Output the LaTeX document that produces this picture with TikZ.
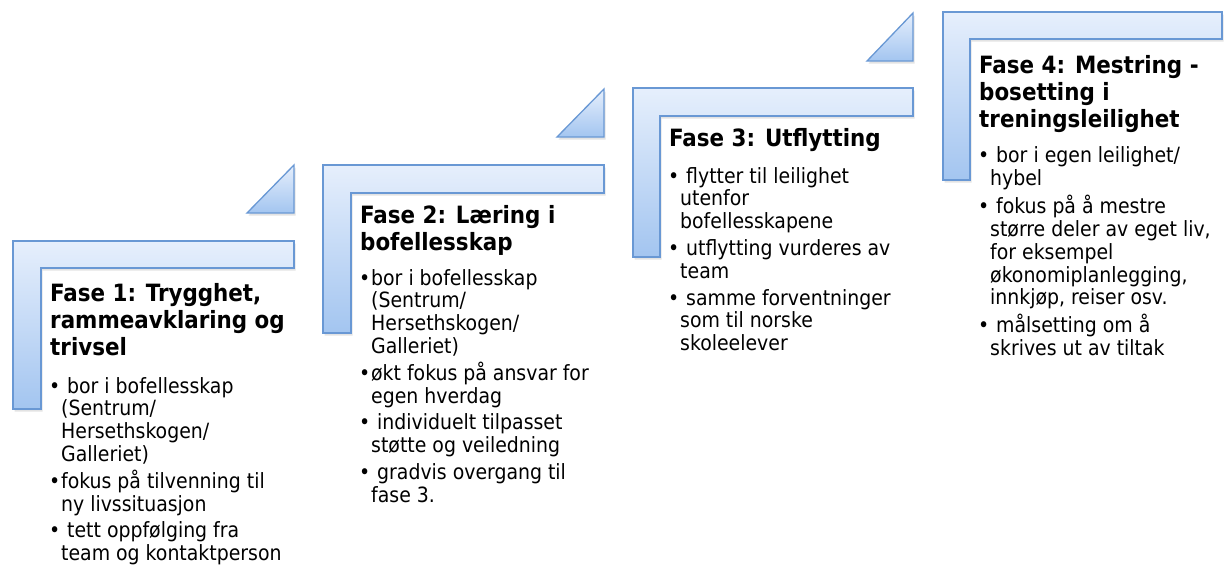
\documentclass[tikz,border=0pt]{standalone}
\usepackage{fontspec}
\setmainfont{DejaVu Sans Condensed}
\usepackage{tikz}
\usetikzlibrary{shadows}

\definecolor{stepline}{RGB}{105,152,212}
\definecolor{steptop}{RGB}{230,239,252}
\definecolor{stepbottom}{RGB}{163,197,240}

\newcommand{\bitem}[1]{\makebox[12pt][l]{•}#1}
\newcommand{\bhang}[1]{\hspace*{12pt}#1}

\tikzset{
  stepshape/.style={draw=stepline, line width=1.3pt, line join=miter,
    top color=steptop, bottom color=stepbottom,
    drop shadow={shadow xshift=1.5pt, shadow yshift=-2.5pt, opacity=0.22}},
  phasehead/.style={anchor=base west, inner sep=0pt, align=left,
    font=\fontsize{23.8}{27}\selectfont\bfseries},
  phasebody/.style={anchor=base west, inner sep=0pt, align=left,
    font=\fontsize{21}{22.8}\selectfont},
}

\begin{document}
\begin{tikzpicture}[x=1pt,y=-1pt]
\useasboundingbox (0,0) rectangle (1224,565);
% steps
\draw[stepshape] (13,241) -- (294,241) -- (294,268) -- (41,268) -- (41,409) -- (13,409) -- cycle;
\draw[stepshape] (323,165) -- (604,165) -- (604,193) -- (351,193) -- (351,333) -- (323,333) -- cycle;
\draw[stepshape] (633,88) -- (913,88) -- (913,116) -- (660,116) -- (660,257) -- (633,257) -- cycle;
\draw[stepshape] (943,12) -- (1222,12) -- (1222,39) -- (970,39) -- (970,180) -- (943,180) -- cycle;
% arrows between steps
\draw[stepshape] (247,213) -- (294,213) -- (294,165) -- cycle;
\draw[stepshape] (557,137) -- (604,137) -- (604,89) -- cycle;
\draw[stepshape] (867,61) -- (913,61) -- (913,13) -- cycle;
% fase 1 (base = last line)
\node[phasehead] (h1) at (50,355) {Fase 1: Trygghet,\\rammeavklaring og\\trivsel};
\node[phasebody] (b1) at (49,560.6) {\bitem{\ bor i bofellesskap}\\\bhang{(Sentrum/}\\\bhang{Hersethskogen/}\\\bhang{Galleriet)}\\[4pt]
  \bitem{fokus på tilvenning til}\\\bhang{ny livssituasjon}\\[4pt]
  \bitem{\ tett oppfølging fra}\\\bhang{team og kontaktperson}};
% fase 2
\node[phasehead] (h2) at (360,250) {Fase 2: Læring i\\bofellesskap};
\node[phasebody] (b2) at (359,502.2) {\bitem{bor i bofellesskap}\\\bhang{(Sentrum/}\\\bhang{Hersethskogen/}\\\bhang{Galleriet)}\\[4pt]
  \bitem{økt fokus på ansvar for}\\\bhang{egen hverdag}\\[4pt]
  \bitem{\ individuelt tilpasset}\\\bhang{støtte og veiledning}\\[4pt]
  \bitem{\ gradvis overgang til}\\\bhang{fase 3.}};
% fase 3
\node[phasehead] (h3) at (669,146) {Fase 3: Utflytting};
\node[phasebody] (b3) at (668,350.6) {\bitem{\ flytter til leilighet}\\\bhang{utenfor}\\\bhang{bofellesskapene}\\[4pt]
  \bitem{\ utflytting vurderes av}\\\bhang{team}\\[4pt]
  \bitem{\ samme forventninger}\\\bhang{som til norske}\\\bhang{skoleelever}};
% fase 4
\node[phasehead] (h4) at (979,127) {Fase 4: Mestring -\\bosetting i\\treningsleilighet};
\node[phasebody] (b4) at (978,355.4) {\bitem{\ bor i egen leilighet/}\\\bhang{hybel}\\[4pt]
  \bitem{\ fokus på å mestre}\\\bhang{større deler av eget liv,}\\\bhang{for eksempel}\\\bhang{økonomiplanlegging,}\\\bhang{innkjøp, reiser osv.}\\[4pt]
  \bitem{\ målsetting om å}\\\bhang{skrives ut av tiltak}};
\end{tikzpicture}
\end{document}
